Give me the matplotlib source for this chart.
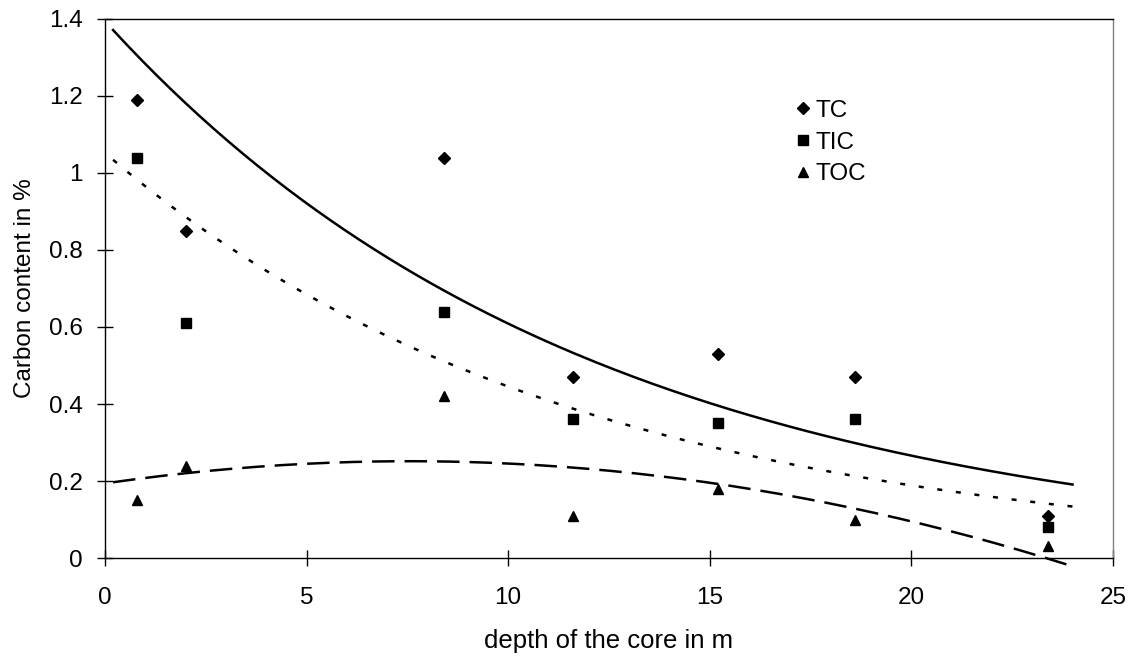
import numpy as np
import matplotlib.pyplot as plt
from matplotlib.ticker import FuncFormatter

plt.rcParams['font.family'] = ['Liberation Sans', 'DejaVu Sans']

# depth of the core (m) and carbon contents (%)
depth = [0.8, 2.0, 8.4, 11.6, 15.2, 18.6, 23.4]
tc = [1.19, 0.85, 1.04, 0.47, 0.53, 0.47, 0.11]
tic = [1.04, 0.61, 0.64, 0.36, 0.35, 0.36, 0.08]
toc = [0.15, 0.24, 0.42, 0.11, 0.18, 0.10, 0.03]

d = np.array(depth)
xs = np.linspace(0.2, 24, 200)

# trend lines like the spreadsheet: exponential for TC / TIC, 2nd order poly for TOC
b_tc, a_tc = np.polyfit(d, np.log(tc), 1)
b_tic, a_tic = np.polyfit(d, np.log(tic), 1)
p_toc = np.polyfit(d, toc, 2)

fig = plt.figure(figsize=(11.35, 6.61), dpi=100)
ax = fig.add_axes([0.0925, 0.1558, 0.888, 0.8155])

ax.plot(d, tc, 'kD', ms=6.5, ls='none', label='TC')
ax.plot(d, tic, 'ks', ms=7, ls='none', label='TIC')
ax.plot(d, toc, 'k^', ms=7.5, ls='none', label='TOC')

ax.plot(xs, np.exp(a_tc + b_tc * xs), 'k-', lw=1.8)
ax.plot(xs, np.exp(a_tic + b_tic * xs), 'k', lw=1.8, dashes=(2, 5.5))
ax.plot(xs, np.polyval(p_toc, xs), 'k', lw=1.8, dashes=(9, 4), clip_on=False)

ax.set_xlim(0, 25)
ax.set_ylim(0, 1.4)
ax.set_xticks([0, 5, 10, 15, 20, 25])
ax.set_yticks(np.arange(0, 1.41, 0.2))
ax.yaxis.set_major_formatter(FuncFormatter(lambda v, p: '%g' % round(v, 2)))
ax.tick_params(direction='inout', length=11, width=1, labelsize=17.5)
ax.tick_params(axis='x', pad=15.5)
ax.tick_params(axis='y', pad=10.5)
for s in ax.spines.values():
    s.set_linewidth(1)
ax.spines['right'].set_color('#808080')

ax.set_xlabel('depth of the core in m', fontsize=18.5, labelpad=14)
ax.set_ylabel('Carbon content in %', fontsize=17.5, labelpad=9)

ax.legend(loc='upper left', bbox_to_anchor=(0.677, 0.868), frameon=False, fontsize=17.5,
          handlelength=0.5, handletextpad=0.25, labelspacing=0.4, borderaxespad=0)

fig.savefig('out.png', dpi=100)
